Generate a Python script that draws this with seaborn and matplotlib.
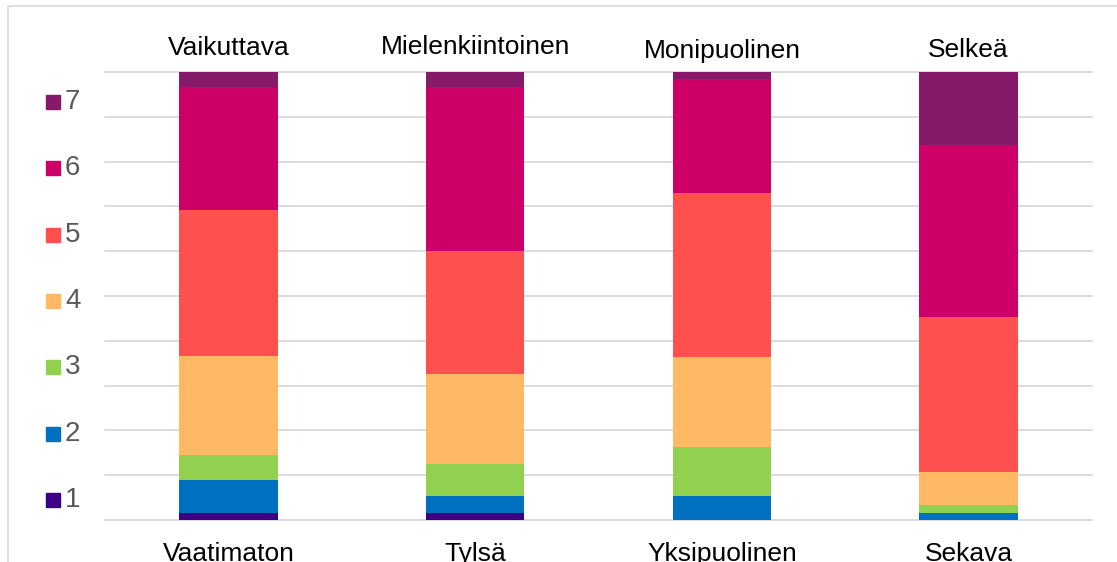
import pandas as pd
import matplotlib.pyplot as plt
import seaborn as sns
from matplotlib.patches import Rectangle

# arvioidut osuudet (%) kuvasta, vastaukset 1-7
low_labels = ['Vaatimaton', 'Tylsä', 'Yksipuolinen', 'Sekava']
high_labels = ['Vaikuttava', 'Mielenkiintoinen', 'Monipuolinen', 'Selkeä']
levels = ['1', '2', '3', '4', '5', '6', '7']
share_1 = [1.6, 1.6, 0.0, 0.0]
share_2 = [7.4, 3.8, 5.4, 1.5]
share_3 = [5.6, 7.1, 10.9, 1.8]
share_4 = [21.9, 20.1, 20.1, 7.5]
share_5 = [32.8, 27.5, 36.6, 34.5]
share_6 = [27.4, 36.6, 25.4, 38.4]
share_7 = [3.3, 3.3, 1.6, 16.3]
colors = ['#3B0084', '#0070C0', '#92D050', '#FFB864', '#FF5050', '#CC0066', '#861A6A']

df = pd.DataFrame({'pari': low_labels, '1': share_1, '2': share_2, '3': share_3,
                   '4': share_4, '5': share_5, '6': share_6, '7': share_7})
cum = df[levels].cumsum(axis=1)
cum['pari'] = df['pari']

sns.set_style('white')
plt.rcParams['font.family'] = ['Liberation Sans', 'DejaVu Sans']

fig = plt.figure(figsize=(11.17, 5.62), dpi=100)
ax = fig.add_axes([105 / 1117, 42 / 562, 987 / 1117, 448 / 562])

# pinotut pylväät: piirretään kumulatiiviset summat ylhäältä alas
for lev, col in zip(levels[::-1], colors[::-1]):
    sns.barplot(data=cum, x='pari', y=lev, color=col, width=0.4,
                saturation=1, edgecolor='none', ax=ax)

ax.set_ylim(0, 100)
ax.set_yticks(range(0, 101, 10))
ax.yaxis.grid(True, color='#D9D9D9', linewidth=1.3, clip_on=False)
ax.set_axisbelow(True)
ax.set_xticks([])
ax.set_yticklabels([])
ax.tick_params(left=False, bottom=False)
ax.set_xlabel('')
ax.set_ylabel('')
sns.despine(ax=ax, left=True, bottom=True)

# ääripäiden nimet pylväiden ylä- ja alapuolelle
top_y = [514, 515, 511, 512]
for i, (lo, hi) in enumerate(zip(low_labels, high_labels)):
    ax.text(i, -34 / 448, lo, transform=ax.get_xaxis_transform(), ha='center', va='center',
            fontsize=19, color='black')
    ax.text(i, (top_y[i] - 42) / 448, hi, transform=ax.get_xaxis_transform(),
            ha='center', va='center', fontsize=19, color='black')

# selite vasemmalla
leg_y = [500, 434, 367, 301, 235, 168, 102]
for lev, col, yp in zip(levels, colors, leg_y):
    fy = (562 - yp) / 562
    fig.patches.append(Rectangle((46 / 1117, fy - 7 / 562), 14 / 1117, 14 / 562,
                                 transform=fig.transFigure, color=col))
    fig.text(65 / 1117, fy, lev, ha='left', va='center', fontsize=20, color='#595959')

# kaavion kehys
fig.patches.append(Rectangle((8 / 1117, -0.1), 1.2, (556 / 562) + 0.1, transform=fig.transFigure,
                             fill=False, edgecolor='#D9D9D9', linewidth=1.2))

fig.savefig('out.png', dpi=100)
